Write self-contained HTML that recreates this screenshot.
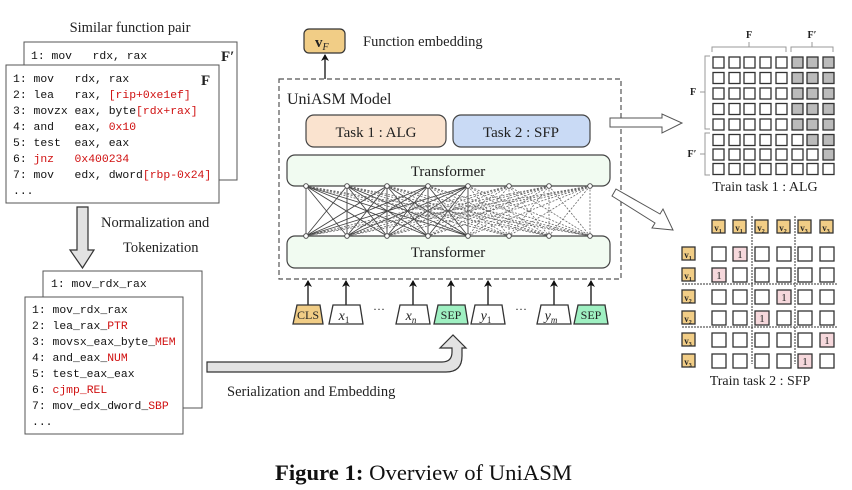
<!DOCTYPE html>
<html><head><meta charset="utf-8"><style>
body{margin:0;background:#fff;width:852px;height:490px;overflow:hidden}
svg{display:block}
.s{font-family:"Liberation Serif",serif;fill:#222}
.m{font-family:"Liberation Mono",monospace;font-size:11.4px;fill:#111;white-space:pre}
.r{fill:#d01010}
.c{fill:#fff;stroke:#333;stroke-width:1.3}
.g{fill:#bbb;stroke:#333;stroke-width:1.3}
.p{fill:#f6d8dc;stroke:#333;stroke-width:1.3}
.o{fill:#f1cd86;stroke:#333;stroke-width:1.3}
</style></head><body>
<svg width="852" height="490" viewBox="0 0 852 490" xmlns="http://www.w3.org/2000/svg">
<defs>
<rect id="a" width="11" height="11" class="c"/>
<rect id="b" width="11" height="11" class="g"/>
<rect id="q" width="14" height="14" class="c"/>
<marker id="ar" markerWidth="8" markerHeight="8" refX="6" refY="4" orient="auto" markerUnits="userSpaceOnUse"><path d="M0,0 L7,4 L0,8 L2,4z" fill="#111"/></marker>
</defs>

<text class="s" x="130" y="32" font-size="14.5" text-anchor="middle">Similar function pair</text>
<rect x="24" y="42" width="213" height="138" fill="#fff" stroke="#555" stroke-width="1"/>
<text class="m" x="31" y="59">1: mov&#160;&#160;&#160;rdx, rax</text>
<text class="s" x="221" y="61" font-size="15" font-weight="bold">F′</text>
<rect x="6" y="65" width="213" height="138" fill="#fff" stroke="#555" stroke-width="1"/>
<text class="s" x="201" y="85" font-size="15" font-weight="bold">F</text>
<text class="m" x="13" y="82">1: mov&#160;&#160;&#160;rdx, rax</text>
<text class="m" x="13" y="98">2: lea&#160;&#160;&#160;rax, <tspan class="r">[rip+0xe1ef]</tspan></text>
<text class="m" x="13" y="114">3: movzx eax, byte<tspan class="r">[rdx+rax]</tspan></text>
<text class="m" x="13" y="130">4: and&#160;&#160;&#160;eax, <tspan class="r">0x10</tspan></text>
<text class="m" x="13" y="146">5: test&#160;&#160;eax, eax</text>
<text class="m" x="13" y="162">6: <tspan class="r">jnz&#160;&#160;&#160;0x400234</tspan></text>
<text class="m" x="13" y="178">7: mov&#160;&#160;&#160;edx, dword<tspan class="r">[rbp-0x24]</tspan></text>
<text class="m" x="13" y="194">...</text>

<path d="M77 207 H88 V250 H94 L82.5 268 L70 250 H77 Z" fill="#e2e2e2" stroke="#333" stroke-width="1.2"/>
<text class="s" x="101" y="227" font-size="14.5">Normalization and</text>
<text class="s" x="123" y="252" font-size="14.5">Tokenization</text>

<rect x="43" y="271" width="159" height="137" fill="#fff" stroke="#555" stroke-width="1"/>
<text class="m" x="51" y="287">1: mov_rdx_rax</text>
<rect x="25" y="297" width="158" height="137" fill="#fff" stroke="#555" stroke-width="1"/>
<text class="m" x="32" y="313">1: mov_rdx_rax</text>
<text class="m" x="32" y="329">2: lea_rax_<tspan class="r">PTR</tspan></text>
<text class="m" x="32" y="345">3: movsx_eax_byte_<tspan class="r">MEM</tspan></text>
<text class="m" x="32" y="361">4: and_eax_<tspan class="r">NUM</tspan></text>
<text class="m" x="32" y="377">5: test_eax_eax</text>
<text class="m" x="32" y="393">6: <tspan class="r">cjmp_REL</tspan></text>
<text class="m" x="32" y="409">7: mov_edx_dword_<tspan class="r">SBP</tspan></text>
<text class="m" x="32" y="425">...</text>

<path d="M207 362 H442 Q452 362 452 352 V348 H440 L453 335 L466 348 H462 V356 Q462 372 446 372 H207 Z" fill="#e2e2e2" stroke="#333" stroke-width="1.2"/>
<text class="s" x="227" y="396" font-size="14.5">Serialization and Embedding</text>

<rect x="304" y="29" width="41" height="24" rx="5" fill="#f1cd86" stroke="#333" stroke-width="1.2"/>
<text class="s" x="315" y="47" font-size="15" font-weight="bold">v<tspan font-size="10" font-style="italic" font-weight="normal" dy="3">F</tspan></text>
<line x1="325" y1="79" x2="325" y2="55" stroke="#111" stroke-width="1.3" marker-end="url(#ar)"/>
<text class="s" x="363" y="46" font-size="14.5">Function embedding</text>
<rect x="279" y="79" width="342" height="200" fill="none" stroke="#555" stroke-width="1.2" stroke-dasharray="5,3"/>
<text class="s" x="287" y="104" font-size="16">UniASM Model</text>
<rect x="306" y="115" width="140" height="32" rx="8" fill="#fae3cf" stroke="#444" stroke-width="1.2"/>
<text class="s" x="376" y="137" font-size="15" text-anchor="middle">Task 1 :  ALG</text>
<rect x="453" y="115" width="137" height="32" rx="8" fill="#c9daf5" stroke="#444" stroke-width="1.2"/>
<text class="s" x="521" y="137" font-size="15" text-anchor="middle">Task 2 :  SFP</text>
<rect x="287" y="155" width="323" height="31" rx="8" fill="#f1fbf1" stroke="#444" stroke-width="1.2"/>
<text class="s" x="448" y="176" font-size="15" text-anchor="middle">Transformer</text>
<rect x="287" y="236" width="323" height="32" rx="8" fill="#f1fbf1" stroke="#444" stroke-width="1.2"/>
<text class="s" x="448" y="257" font-size="15" text-anchor="middle">Transformer</text>

<path stroke="#444" stroke-width="0.9" fill="none" d="
M306 186L306 236M306 186L347 236M306 186L387 236M306 186L428 236M306 186L468 236
M347 186L306 236M347 186L347 236M347 186L387 236M347 186L428 236M347 186L468 236
M387 186L306 236M387 186L347 236M387 186L387 236M387 186L428 236M387 186L468 236
M428 186L306 236M428 186L347 236M428 186L387 236M428 186L428 236M428 186L468 236
M468 186L306 236M468 186L347 236M468 186L387 236M468 186L428 236M468 186L468 236"/>
<path stroke="#666" stroke-width="0.8" fill="none" stroke-dasharray="2,1.5" d="
M306 186L509 236M306 186L549 236M306 186L590 236
M347 186L509 236M347 186L549 236M347 186L590 236
M387 186L509 236M387 186L549 236M387 186L590 236
M428 186L509 236M428 186L549 236M428 186L590 236
M468 186L509 236M468 186L549 236M468 186L590 236
M509 186L306 236M509 186L347 236M509 186L387 236M509 186L428 236M509 186L468 236M509 186L509 236M509 186L549 236M509 186L590 236
M549 186L306 236M549 186L347 236M549 186L387 236M549 186L428 236M549 186L468 236M549 186L509 236M549 186L549 236M549 186L590 236
M590 186L306 236M590 186L347 236M590 186L387 236M590 186L428 236M590 186L468 236M590 186L509 236M590 186L549 236M590 186L590 236"/>
<g fill="#fff" stroke="#444" stroke-width="0.9">
<circle cx="306" cy="186" r="2.3"/><circle cx="347" cy="186" r="2.3"/><circle cx="387" cy="186" r="2.3"/><circle cx="428" cy="186" r="2.3"/><circle cx="468" cy="186" r="2.3"/><circle cx="509" cy="186" r="2.3"/><circle cx="549" cy="186" r="2.3"/><circle cx="590" cy="186" r="2.3"/>
<circle cx="306" cy="236" r="2.3"/><circle cx="347" cy="236" r="2.3"/><circle cx="387" cy="236" r="2.3"/><circle cx="428" cy="236" r="2.3"/><circle cx="468" cy="236" r="2.3"/><circle cx="509" cy="236" r="2.3"/><circle cx="549" cy="236" r="2.3"/><circle cx="590" cy="236" r="2.3"/>
</g>

<g stroke="#111" stroke-width="1.3" marker-end="url(#ar)">
<line x1="308" y1="305" x2="308" y2="281"/><line x1="346" y1="305" x2="346" y2="281"/><line x1="413" y1="305" x2="413" y2="281"/><line x1="451" y1="305" x2="451" y2="281"/><line x1="488" y1="305" x2="488" y2="281"/><line x1="554" y1="305" x2="554" y2="281"/><line x1="591" y1="305" x2="591" y2="281"/>
</g>
<g stroke="#333" stroke-width="1.3">
<path d="M293 324 L297 305 H320 L323 324Z" fill="#f1cd86"/>
<path d="M329 324 L333 305 H360 L363 324Z" fill="#fff"/>
<path d="M396 324 L400 305 H427 L430 324Z" fill="#fff"/>
<path d="M434 324 L438 305 H465 L468 324Z" fill="#9ff0c2"/>
<path d="M471 324 L475 305 H502 L505 324Z" fill="#fff"/>
<path d="M537 324 L541 305 H568 L571 324Z" fill="#fff"/>
<path d="M574 324 L578 305 H605 L608 324Z" fill="#9ff0c2"/>
</g>
<g class="s" font-size="12" text-anchor="middle">
<text x="308" y="319">CLS</text><text x="451" y="319">SEP</text><text x="591" y="319">SEP</text>
</g>
<g class="s" font-size="14" font-style="italic" text-anchor="middle">
<text x="344" y="320">x<tspan font-size="9" font-style="normal" dy="3">1</tspan></text>
<text x="411" y="320">x<tspan font-size="9" dy="3">n</tspan></text>
<text x="486" y="320">y<tspan font-size="9" font-style="normal" dy="3">1</tspan></text>
<text x="551" y="320">y<tspan font-size="9" dy="3">m</tspan></text>
</g>
<text class="s" x="379" y="313" font-size="12" text-anchor="middle">···</text>
<text class="s" x="521" y="313" font-size="12" text-anchor="middle">···</text>

<path d="M610 118 H662 V114 L682 123 L662 133 V127 H610Z" fill="#fff" stroke="#555" stroke-width="1"/>
<path d="M612 196 L616 189 L660 214 L663 209 L673 230 L652 228 L655 223 Z" fill="#fff" stroke="#555" stroke-width="1"/>

<g stroke="#999" stroke-width="1" fill="none">
<path d="M712 52 V47 H786 V52 M749 47 V42"/>
<path d="M791 52 V47 H833 V52 M812 47 V42"/>
<path d="M710 56 H705 V129 H710 M705 92 H700"/>
<path d="M710 133 H705 V175 H710 M705 154 H700"/>
</g>
<text class="s" x="749" y="38" font-size="10" font-weight="bold" text-anchor="middle">F</text>
<text class="s" x="812" y="38" font-size="10" font-weight="bold" text-anchor="middle">F′</text>
<text class="s" x="693" y="95" font-size="10" font-weight="bold" text-anchor="middle">F</text>
<text class="s" x="692" y="157" font-size="10" font-weight="bold" text-anchor="middle">F′</text>
<g>
<g transform="translate(0,57)"><use href="#a" x="713"/><use href="#a" x="729"/><use href="#a" x="744"/><use href="#a" x="760"/><use href="#a" x="776"/><use href="#b" x="792"/><use href="#b" x="807"/><use href="#b" x="823"/></g>
<g transform="translate(0,72.5)"><use href="#a" x="713"/><use href="#a" x="729"/><use href="#a" x="744"/><use href="#a" x="760"/><use href="#a" x="776"/><use href="#b" x="792"/><use href="#b" x="807"/><use href="#b" x="823"/></g>
<g transform="translate(0,88)"><use href="#a" x="713"/><use href="#a" x="729"/><use href="#a" x="744"/><use href="#a" x="760"/><use href="#a" x="776"/><use href="#b" x="792"/><use href="#b" x="807"/><use href="#b" x="823"/></g>
<g transform="translate(0,103.5)"><use href="#a" x="713"/><use href="#a" x="729"/><use href="#a" x="744"/><use href="#a" x="760"/><use href="#a" x="776"/><use href="#b" x="792"/><use href="#b" x="807"/><use href="#b" x="823"/></g>
<g transform="translate(0,119)"><use href="#a" x="713"/><use href="#a" x="729"/><use href="#a" x="744"/><use href="#a" x="760"/><use href="#a" x="776"/><use href="#b" x="792"/><use href="#b" x="807"/><use href="#b" x="823"/></g>
<g transform="translate(0,134.5)"><use href="#a" x="713"/><use href="#a" x="729"/><use href="#a" x="744"/><use href="#a" x="760"/><use href="#a" x="776"/><use href="#a" x="792"/><use href="#b" x="807"/><use href="#b" x="823"/></g>
<g transform="translate(0,149)"><use href="#a" x="713"/><use href="#a" x="729"/><use href="#a" x="744"/><use href="#a" x="760"/><use href="#a" x="776"/><use href="#a" x="792"/><use href="#a" x="807"/><use href="#b" x="823"/></g>
<g transform="translate(0,163.5)"><use href="#a" x="713"/><use href="#a" x="729"/><use href="#a" x="744"/><use href="#a" x="760"/><use href="#a" x="776"/><use href="#a" x="792"/><use href="#a" x="807"/><use href="#a" x="823"/></g>
</g>
<text class="s" x="765" y="191" font-size="14" text-anchor="middle">Train task 1 :  ALG</text>

<g stroke="#333" stroke-width="1" stroke-dasharray="2,1">
<line x1="752" y1="216" x2="752" y2="364"/><line x1="795" y1="216" x2="795" y2="364"/>
<line x1="682" y1="284" x2="838" y2="284"/><line x1="682" y1="327" x2="838" y2="327"/>
</g>
<g>
<rect x="712" y="220" width="13" height="13" class="o"/><rect x="733" y="220" width="13" height="13" class="o"/><rect x="755" y="220" width="13" height="13" class="o"/><rect x="777" y="220" width="13" height="13" class="o"/><rect x="798" y="220" width="13" height="13" class="o"/><rect x="820" y="220" width="13" height="13" class="o"/>
<rect x="682" y="247" width="13" height="13" class="o"/><rect x="682" y="268" width="13" height="13" class="o"/><rect x="682" y="290" width="13" height="13" class="o"/><rect x="682" y="311" width="13" height="13" class="o"/><rect x="682" y="333" width="13" height="13" class="o"/><rect x="682" y="354" width="13" height="13" class="o"/>
</g>
<g class="s" font-size="9" font-weight="bold" text-anchor="middle">
<text x="718" y="231">v<tspan font-size="6" dy="2">1</tspan></text><text x="739" y="231">v<tspan font-size="6" dy="2">1</tspan></text><text x="761" y="231">v<tspan font-size="6" dy="2">2</tspan></text><text x="783" y="231">v<tspan font-size="6" dy="2">2</tspan></text><text x="804" y="231">v<tspan font-size="6" dy="2">3</tspan></text><text x="826" y="231">v<tspan font-size="6" dy="2">3</tspan></text>
<text x="688" y="258">v<tspan font-size="6" dy="2">1</tspan></text><text x="688" y="279">v<tspan font-size="6" dy="2">1</tspan></text><text x="688" y="301">v<tspan font-size="6" dy="2">2</tspan></text><text x="688" y="322">v<tspan font-size="6" dy="2">2</tspan></text><text x="688" y="344">v<tspan font-size="6" dy="2">3</tspan></text><text x="688" y="365">v<tspan font-size="6" dy="2">3</tspan></text>
</g>
<g>
<g transform="translate(0,247)"><use href="#q" x="712"/><rect x="733" width="14" height="14" class="p"/><use href="#q" x="755"/><use href="#q" x="777"/><use href="#q" x="798"/><use href="#q" x="820"/></g>
<g transform="translate(0,268)"><rect x="712" width="14" height="14" class="p"/><use href="#q" x="733"/><use href="#q" x="755"/><use href="#q" x="777"/><use href="#q" x="798"/><use href="#q" x="820"/></g>
<g transform="translate(0,290)"><use href="#q" x="712"/><use href="#q" x="733"/><use href="#q" x="755"/><rect x="777" width="14" height="14" class="p"/><use href="#q" x="798"/><use href="#q" x="820"/></g>
<g transform="translate(0,311)"><use href="#q" x="712"/><use href="#q" x="733"/><rect x="755" width="14" height="14" class="p"/><use href="#q" x="777"/><use href="#q" x="798"/><use href="#q" x="820"/></g>
<g transform="translate(0,333)"><use href="#q" x="712"/><use href="#q" x="733"/><use href="#q" x="755"/><use href="#q" x="777"/><use href="#q" x="798"/><rect x="820" width="14" height="14" class="p"/></g>
<g transform="translate(0,354)"><use href="#q" x="712"/><use href="#q" x="733"/><use href="#q" x="755"/><use href="#q" x="777"/><rect x="798" width="14" height="14" class="p"/><use href="#q" x="820"/></g>
</g>
<g class="s" font-size="11" text-anchor="middle">
<text x="740" y="258">1</text><text x="719" y="279">1</text><text x="784" y="301">1</text><text x="762" y="322">1</text><text x="827" y="344">1</text><text x="805" y="365">1</text>
</g>
<text class="s" x="760" y="385" font-size="14" text-anchor="middle">Train task 2 :  SFP</text>

<text x="275" y="480" font-family="Liberation Serif,serif" font-size="22" fill="#111" textLength="297" lengthAdjust="spacingAndGlyphs"><tspan font-weight="bold">Figure 1:</tspan> Overview of UniASM</text>
</svg>
</body></html>
